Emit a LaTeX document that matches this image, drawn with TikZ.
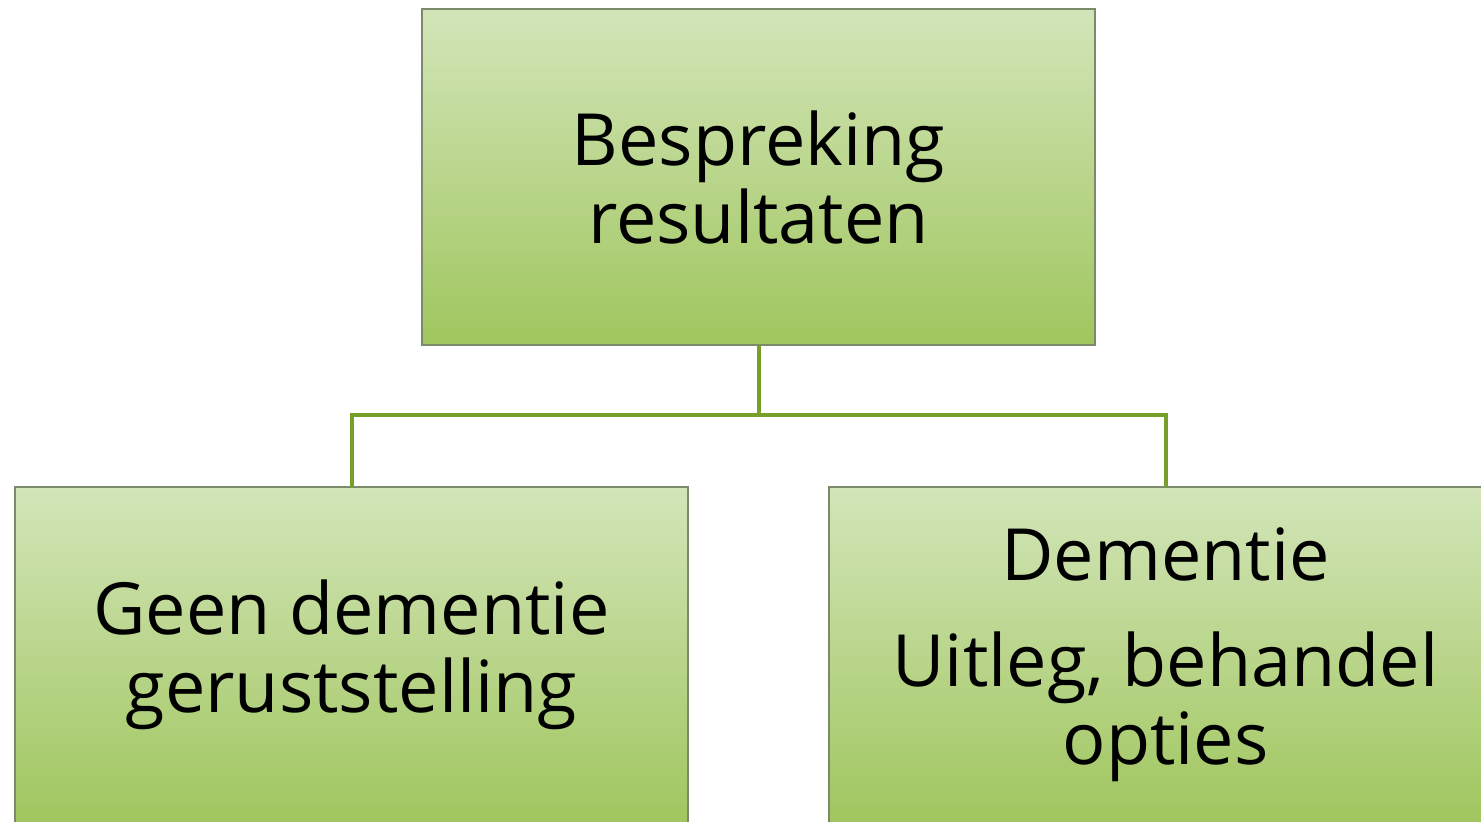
\documentclass[tikz,border=0pt]{standalone}
\usepackage{fontspec}
\setmainfont{Open Sans}
\definecolor{gtop}{HTML}{D3E5B9}
\definecolor{gbot}{HTML}{A0C65E}
\definecolor{gedge}{HTML}{7C8A6C}
\definecolor{gline}{HTML}{76A02A}
\begin{document}
\begin{tikzpicture}[x=0.5pt,y=-0.5pt,
  box/.style={draw=gedge, line width=0.8pt, top color=gtop, bottom color=gbot,
    minimum width=336.5pt, minimum height=168pt, inner sep=0pt, outer sep=0pt,
    align=center, font=\fontsize{36}{39}\selectfont},
  conn/.style={draw=gline, line width=2pt}]
\useasboundingbox (0,0) rectangle (1481,821);
\clip (0,0) rectangle (1481,821);
\node[box] (top) at (758.5,177) {Bespreking\\resultaten};
\node[box] (left) at (351.5,655) {Geen dementie\\geruststelling};
\node[box] (right) at (1165.5,655) {Dementie\\[14pt]Uitleg, behandel\\opties};
\coordinate (mid) at (758.5,415);
\draw[conn] (top.south) -- (mid);
\draw[conn] (left.north) |- (mid) -| (right.north);
\end{tikzpicture}
\end{document}
